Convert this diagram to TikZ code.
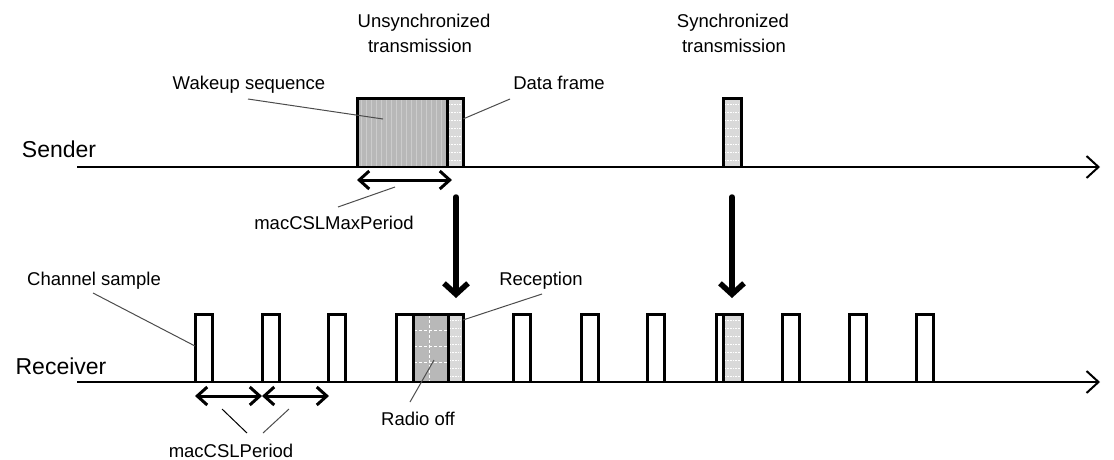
\documentclass[tikz,border=0pt]{standalone}
\usepackage{fontspec}
\setmainfont{Liberation Sans}
\usetikzlibrary{arrows.meta}
\begin{document}
\begin{tikzpicture}[x=1pt,y=-1pt,
  lbl/.style={font=\fontsize{18.5}{20}\selectfont, inner sep=0pt, anchor=base},
  biglbl/.style={font=\fontsize{23}{25}\selectfont, inner sep=0pt, anchor=base},
  axisline/.style={line width=2pt, -{Straight Barb[length=12pt,width=22pt]}},
  boxline/.style={line width=3pt, line join=miter},
  span/.style={line width=3pt, {Straight Barb[length=10pt,width=18pt]}-{Straight Barb[length=10pt,width=18pt]}},
  down/.style={line width=5.5pt, line cap=round, -{Straight Barb[length=11pt,width=24pt]}},
  leader/.style={line width=1pt, draw=black!70},
  wake/.style={fill=black!28},
  frame/.style={fill=black!15},
  roff/.style={fill=black!28},
]
\useasboundingbox (0,0) rectangle (1114,459);

% ---- texts
\node[lbl] (unsync1) at (424,27) {Unsynchronized};
\node[lbl] (unsync2) at (420,52) {transmission};
\node[lbl] (sync1) at (733,27) {Synchronized};
\node[lbl] (sync2) at (734,52) {transmission};
\node[lbl] (wakeup) at (249,89) {Wakeup sequence};
\node[lbl] (dataframe) at (559,89) {Data frame};
\node[biglbl] (sender) at (59,157) {Sender};
\node[lbl] (maxperiod) at (334,229) {macCSLMaxPeriod};
\node[lbl] (chsample) at (94,285) {Channel sample};
\node[lbl] (reception) at (541,285) {Reception};
\node[biglbl] (receiver) at (61,374) {Receiver};
\node[lbl] (radiooff) at (418,425) {Radio off};
\node[lbl] (period) at (231,457) {macCSLPeriod};

% ---- sender blocks
\fill[wake] (357,98) rectangle (447,167);
\foreach \x in {361,366,...,445} \draw[black!20, line width=0.6pt] (\x,99) -- (\x,166);
\fill[frame] (447,98) rectangle (463,167);
\foreach \y in {104,112,...,164} \draw[white, line width=0.6pt, densely dotted] (449,\y) -- (461,\y);
\draw[boxline] (357,167) -- (357,98) -- (463,98) -- (463,167);
\draw[boxline] (447,98) -- (447,167);

\fill[frame] (723,98) rectangle (741,167);
\foreach \y in {104,112,...,164} \draw[white, line width=0.6pt, densely dotted] (725,\y) -- (739,\y);
\draw[boxline] (723,167) -- (723,98) -- (741,98) -- (741,167);

% ---- sender axis
\coordinate (sstart) at (77,167);
\coordinate (send) at (1100,167);
\draw[axisline] (sstart) -- (send);

% ---- receiver samples
\foreach \x in {195,262,328,513,581,647,782,849,916}
  \draw[boxline] (\x,382) -- (\x,314) -- (\x+17,314) -- (\x+17,382);

% reception block
\fill[roff] (413,314) rectangle (448,382);
\foreach \x in {429} \draw[white, line width=0.8pt, densely dashed] (\x,315) -- (\x,381);
\foreach \y in {330,346,362} \draw[white, line width=0.8pt, densely dashed] (414,\y) -- (447,\y);
\fill[frame] (448,314) rectangle (463,382);
\foreach \y in {320,328,...,380} \draw[white, line width=0.6pt, densely dotted] (450,\y) -- (461,\y);
\draw[boxline] (396,382) -- (396,314) -- (463,314) -- (463,382);
\draw[boxline] (413,314) -- (413,382);
\draw[boxline] (448,314) -- (448,382);

% synchronized reception
\fill[frame] (723,314) rectangle (742,382);
\foreach \y in {320,328,...,380} \draw[white, line width=0.6pt, densely dotted] (725,\y) -- (740,\y);
\draw[boxline] (716,382) -- (716,314) -- (742,314) -- (742,382);
\draw[boxline] (723,314) -- (723,382);

% ---- receiver axis
\coordinate (rstart) at (77,382);
\coordinate (rend) at (1100,382);
\draw[axisline] (rstart) -- (rend);

% ---- spans
\coordinate (ms1) at (357,180);
\coordinate (ms2) at (452,180);
\draw[span] (ms1) -- (ms2);
\coordinate (p1) at (195,396);
\coordinate (p2) at (262,396);
\coordinate (p3) at (329,396);
\draw[span] (p1) -- (p2);
\draw[span] (p2) -- (p3);

% ---- down arrows
\coordinate (d1a) at (456,197);
\coordinate (d1b) at (456,298);
\draw[down] (d1a) -- (d1b);
\coordinate (d2a) at (732,197);
\coordinate (d2b) at (732,298);
\draw[down] (d2a) -- (d2b);

% ---- leaders
\coordinate (wk1) at (248,99);   \coordinate (wk2) at (383,119);
\draw[leader] (wk1) -- (wk2);
\coordinate (df1) at (510,99);   \coordinate (df2) at (463,119);
\draw[leader] (df1) -- (df2);
\coordinate (mp1) at (395,187);  \coordinate (mp2) at (338,207);
\draw[leader] (mp1) -- (mp2);
\coordinate (cs1) at (93,293);   \coordinate (cs2) at (195,346);
\draw[leader] (cs1) -- (cs2);
\coordinate (rc1) at (542,294);  \coordinate (rc2) at (463,320);
\draw[leader] (rc1) -- (rc2);
\coordinate (ro1) at (434,360);  \coordinate (ro2) at (410,402);
\draw[leader] (ro1) -- (ro2);
\coordinate (pl1) at (222,409);  \coordinate (pl2) at (247,433);
\draw[leader, draw=black] (pl1) -- (pl2);
\coordinate (pr1) at (289,409);  \coordinate (pr2) at (263,433);
\draw[leader] (pr1) -- (pr2);
\end{tikzpicture}
\end{document}
